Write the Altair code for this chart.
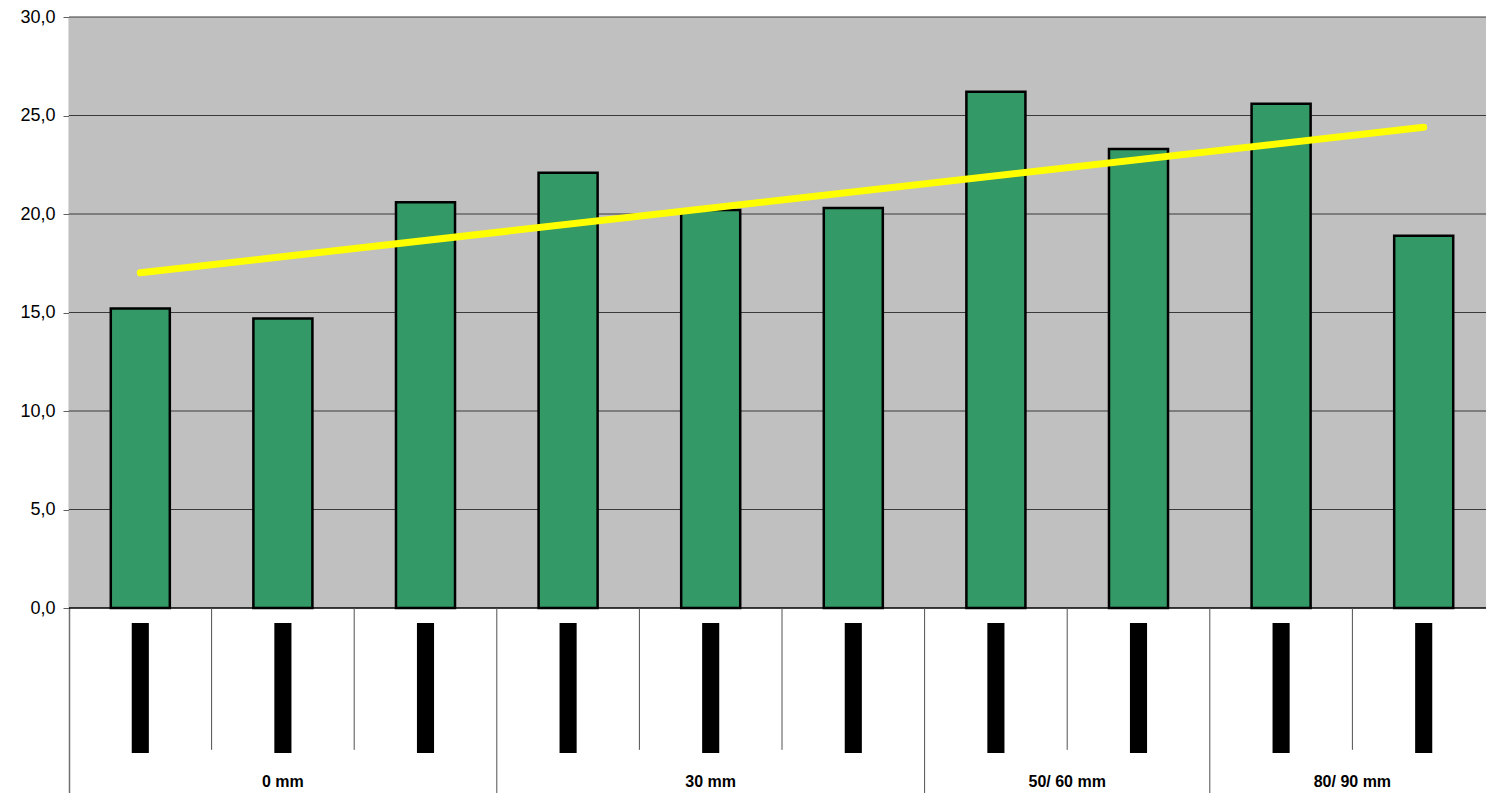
import altair as alt
import pandas as pd

# Measured values per sample, left to right
VALUES = [15.2, 14.7, 20.6, 22.1, 20.2, 20.3, 26.2, 23.3, 25.6, 18.9]
# Second-level category groups and how many samples each spans
GROUPS = ["0 mm", "30 mm", "50/ 60 mm", "80/ 90 mm"]
GROUP_SIZES = [3, 3, 2, 2]
Y_TICKS = [0, 5, 10, 15, 20, 25, 30]

# Layout
W, H = 1417, 776
STEP_PX = 142.6          # pixel width of one category slot
PX_PER_UNIT = 19.7       # pixels per value unit
XMAX = W / STEP_PX
YMIN = 30 - H / PX_PER_UNIT
BAR_HALF = 0.207
FONT = "Liberation Sans"

n = len(VALUES)
bars = pd.DataFrame({
    "pos": [i + 0.5 for i in range(n)],
    "value": VALUES,
})
bars["left"] = bars["pos"] - BAR_HALF
bars["right"] = bars["pos"] + BAR_HALF
bars["base"] = 0.0

xs = alt.Scale(domain=[0, XMAX], nice=False, zero=False)
ys = alt.Scale(domain=[YMIN, 30], nice=False, zero=False)

yaxis = alt.Axis(
    values=Y_TICKS, grid=False, title=None,
    labelExpr="replace(format(datum.value, '.1f'), '.', ',')",
    labelFontSize=18, labelFont=FONT, labelColor="black",
    tickSize=6, tickColor="#606060", domainColor="#707070", domainWidth=1.5,
    labelPadding=8,
)

# Grey plot area (value range 0..30 only)
bg = alt.Chart(pd.DataFrame({"x0": [0.0], "x1": [XMAX], "y0": [0.0], "y1": [30.0]})).mark_rect(
    color="#C0C0C0"
).encode(
    x=alt.X("x0:Q", scale=xs, axis=None),
    x2="x1:Q",
    y=alt.Y("y0:Q", scale=ys, axis=yaxis),
    y2="y1:Q",
)

# Horizontal gridlines
grid_df = pd.DataFrame({"y": Y_TICKS[1:], "x0": 0.0, "x1": XMAX})
grid = alt.Chart(grid_df).mark_rule(color="#3a3a3a", strokeWidth=1).encode(
    x="x0:Q", x2="x1:Q", y="y:Q"
)

zero_df = pd.DataFrame({"y": [0.0], "x0": [0.0], "x1": [XMAX]})
zero = alt.Chart(zero_df).mark_rule(color="black", strokeWidth=1.5).encode(
    x="x0:Q", x2="x1:Q", y="y:Q"
)

bar_layer = alt.Chart(bars).mark_bar(
    fill="#339966", stroke="black", strokeWidth=2.5
).encode(
    x="left:Q", x2="right:Q", y="value:Q", y2="base:Q"
)

# Linear trend line through the measured values
trend = alt.Chart(bars).transform_regression(
    "pos", "value", method="linear"
).mark_line(color="#FFFF00", strokeWidth=7, strokeCap="round").encode(
    x="pos:Q", y="value:Q"
)

# Category separators below the axis: short within a group, full-height between groups
group_edges = set()
acc = 0
for s in GROUP_SIZES:
    acc += s
    group_edges.add(acc)
sep_rows = []
for k in range(1, n):
    full = k in group_edges
    sep_rows.append({"x": float(k), "y0": 0.0, "y1": YMIN if full else -7.2})
sep = alt.Chart(pd.DataFrame(sep_rows)).mark_rule(color="#505050", strokeWidth=1).encode(
    x="x:Q", y="y0:Q", y2="y1:Q"
)

# First-level category markers
blocks = bars[["pos"]].copy()
blocks["l"] = blocks["pos"] - 0.06
blocks["r"] = blocks["pos"] + 0.06
blocks["t"] = -0.76
blocks["b"] = -7.36
block_layer = alt.Chart(blocks).mark_rect(color="black").encode(
    x="l:Q", x2="r:Q", y="t:Q", y2="b:Q"
)

# Group labels centred under their spans
centers = []
acc = 0
for s in GROUP_SIZES:
    centers.append(acc + s / 2)
    acc += s
labels_df = pd.DataFrame({"x": centers, "y": -8.83, "label": GROUPS})
group_labels = alt.Chart(labels_df).mark_text(
    font=FONT, fontSize=16, fontWeight="bold", color="black", baseline="middle", align="center"
).encode(x="x:Q", y="y:Q", text="label:N")

chart = alt.layer(
    bg, grid, bar_layer, zero, trend, sep, block_layer, group_labels
).properties(
    width=W, height=H,
    padding={"left": 69, "top": 17, "right": 0, "bottom": 0},
    autosize=alt.AutoSizeParams(type="none"),
).configure_view(strokeWidth=0).configure(background="white")

chart.save("out.html", embed_options={"renderer": "svg", "actions": False})
